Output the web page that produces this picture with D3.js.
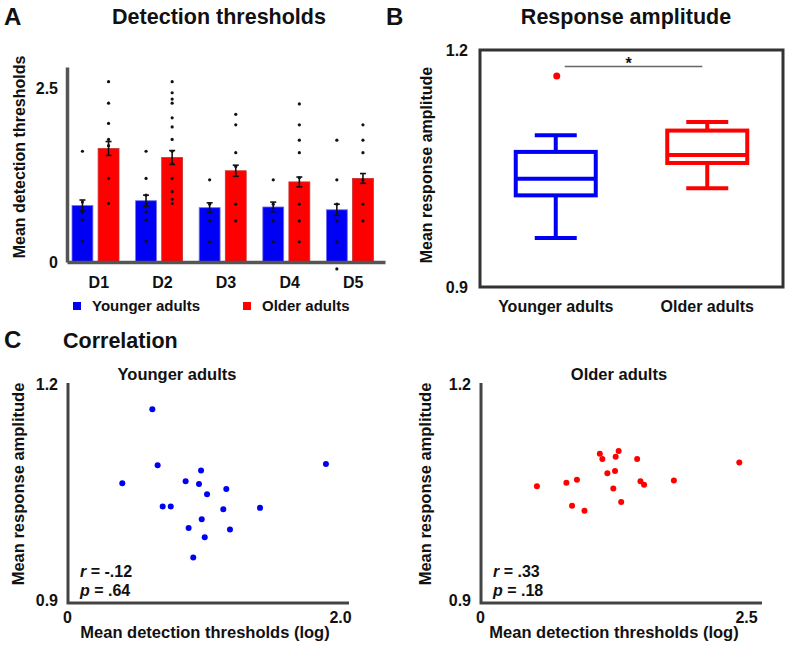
<!DOCTYPE html>
<html>
<head>
<meta charset="utf-8">
<script src="https://cdn.jsdelivr.net/npm/d3@7"></script>
<style>
  body { margin: 0; background: #fff; }
  svg { font-family: "Liberation Sans", Arial, sans-serif; font-weight: bold; }
</style>
</head>
<body>
<div class="fig"></div>
<script>
// ---- data ----
const conditions = ['D1', 'D2', 'D3', 'D4', 'D5'];
const groups = ['Younger adults', 'Older adults'];
const youngMean = [0.81, 0.88, 0.78, 0.79, 0.75];
const oldMean   = [1.63, 1.50, 1.31, 1.15, 1.20];
const youngSem  = [0.08, 0.08, 0.07, 0.07, 0.08];
const oldSem    = [0.10, 0.10, 0.08, 0.07, 0.07];
const youngDots = [
    [1.59, 0.86, 0.71, 0.60, 0.30],
    [1.59, 1.20, 0.96, 0.84, 0.72, 0.60, 0.30],
    [1.18, 0.83, 0.59, 0.29],
    [1.18, 0.83, 0.59, 0.29],
    [1.75, 1.18, 0.83, 0.59, 0.29, -0.10],
];
const oldDots = [
    [2.59, 2.28, 1.99, 1.76, 1.67, 1.20, 0.84],
    [2.59, 2.43, 2.34, 2.28, 2.07, 1.94, 1.76, 1.59, 1.42, 1.20, 1.01, 0.90, 0.84],
    [2.12, 1.97, 1.57, 1.37, 0.83, 0.59],
    [2.27, 1.97, 1.75, 1.57, 1.21, 0.83, 0.59, 0.29],
    [1.97, 1.75, 1.57, 1.18, 0.83, 0.59],
];

// box plot: [min, q1, median, q3, max]
const boxStats = [
    [0.962, 1.016, 1.037, 1.071, 1.092],
    [1.025, 1.057, 1.067, 1.098, 1.109],
];
const outliers = [[1.167], []];

const youngX = [0.625, 0.664, 0.405, 0.982, 0.869, 0.967, 1.026, 1.167, 0.701, 0.760, 1.145, 1.414, 0.987, 0.891, 1.194, 1.009, 0.925, 1.897];
const youngY = [1.165, 1.087, 1.062, 1.080, 1.065, 1.061, 1.047, 1.054, 1.030, 1.030, 1.026, 1.028, 1.012, 1.000, 0.998, 0.987, 0.959, 1.089];
const oldX = [0.535, 0.812, 0.911, 0.865, 0.982, 1.126, 1.150, 1.275, 1.303, 1.197, 1.269, 1.253, 1.327, 1.477, 1.508, 1.542, 1.822, 2.437];
const oldY = [1.058, 1.063, 1.067, 1.031, 1.024, 1.103, 1.096, 1.099, 1.107, 1.076, 1.079, 1.055, 1.036, 1.096, 1.065, 1.060, 1.066, 1.091];

const blue = '#0000f5';
const red  = '#ff0000';

const svg = d3.select('.fig')
    .append('svg')
    .attr('width', 788)
    .attr('height', 645)
;

const styleAxis = (g, size, domainColor, domainWidth) => {
    g.selectAll('text').attr('font-size', size).attr('font-weight', 'bold').attr('fill', '#111')
        .attr('font-family', '"Liberation Sans", Arial, sans-serif');
    g.select('.domain').attr('stroke', domainColor || 'none').attr('stroke-width', domainWidth || 0);
};

const label = (x, y, txt, size, anchor) => svg.append('text')
    .attr('x', x).attr('y', y)
    .attr('font-size', size)
    .attr('text-anchor', anchor || 'start')
    .attr('fill', '#111')
    .text(txt);

const vLabel = (x, y, txt, size) => svg.append('text')
    .attr('transform', `translate(${x},${y}) rotate(-90)`)
    .attr('font-size', size)
    .attr('text-anchor', 'middle')
    .attr('fill', '#111')
    .text(txt);

// ================= A: detection thresholds =================
label(4, 25, 'A', 24);
label(219, 24, 'Detection thresholds', 21.5, 'middle');
vLabel(25, 157, 'Mean detection thresholds', 16);

const xA = d3.scaleBand().domain(conditions).range([67, 385]);
const xSub = d3.scaleBand().domain(groups).range([5, 52]).paddingInner(0.2);
const yA = d3.scaleLinear().domain([0, 2.8]).range([262, 67]);

const gA = svg.append('g');
const barData = [];
conditions.forEach((c, i) => {
    barData.push({ c, g: groups[0], mean: youngMean[i], sem: youngSem[i], dots: youngDots[i], fill: blue, stroke: '#6f6ff0' });
    barData.push({ c, g: groups[1], mean: oldMean[i], sem: oldSem[i], dots: oldDots[i], fill: red, stroke: '#c83030' });
});

gA.selectAll('rect.bar').data(barData).enter()
    .append('rect')
    .attr('class', 'bar')
    .attr('x', d => xA(d.c) + xSub(d.g))
    .attr('y', d => yA(d.mean))
    .attr('width', xSub.bandwidth())
    .attr('height', d => yA(0) - yA(d.mean))
    .attr('fill', d => d.fill)
    .attr('stroke', d => d.stroke)
    .attr('stroke-width', 0.8)
;

const cx = d => xA(d.c) + xSub(d.g) + xSub.bandwidth() / 2;

// dots
barData.forEach(d => {
    gA.selectAll(null).data(d.dots).enter()
        .append('circle')
        .attr('cx', cx(d))
        .attr('cy', v => yA(v))
        .attr('r', 1.6)
        .attr('fill', '#111');
});

// error bars
const eb = gA.selectAll('g.eb').data(barData).enter().append('g').attr('class', 'eb')
    .attr('stroke', '#111').attr('stroke-width', 1.6);
eb.append('line')
    .attr('x1', cx).attr('x2', cx)
    .attr('y1', d => yA(d.mean - d.sem)).attr('y2', d => yA(d.mean + d.sem));
eb.append('line')
    .attr('x1', d => cx(d) - 3).attr('x2', d => cx(d) + 3)
    .attr('y1', d => yA(d.mean + d.sem)).attr('y2', d => yA(d.mean + d.sem));
eb.append('line')
    .attr('x1', d => cx(d) - 3).attr('x2', d => cx(d) + 3)
    .attr('y1', d => yA(d.mean - d.sem)).attr('y2', d => yA(d.mean - d.sem));

svg.append('g')
    .attr('transform', 'translate(67,0)')
    .call(d3.axisLeft(yA).tickValues([0, 2.5]).tickFormat(d => d === 0 ? '0' : d3.format('.1f')(d)).tickSize(0).tickSizeOuter(0).tickPadding(9))
    .call(g => styleAxis(g, 16, '#555', 3.5));
svg.append('g')
    .attr('transform', `translate(0,${yA(0)})`)
    .call(d3.axisBottom(xA).tickSize(0).tickSizeOuter(0).tickPadding(15))
    .call(g => styleAxis(g, 16, '#555', 3.5));

// legend
const legend = svg.append('g');
[[73, groups[0], blue], [243, groups[1], red]].forEach(([x, t, col]) => {
    legend.append('rect').attr('x', x).attr('y', 302).attr('width', 8).attr('height', 8).attr('fill', col);
    legend.append('text').attr('x', x + 19).attr('y', 311).attr('font-size', 15).attr('fill', '#111').text(t);
});

// ================= B: response amplitude =================
label(386, 25, 'B', 24);
label(626, 24, 'Response amplitude', 21.5, 'middle');
vLabel(432, 165, 'Mean response amplitude', 16);

const xB = d3.scaleBand().domain(groups).range([480, 783]);
const yB = d3.scaleLinear().domain([0.9, 1.2]).range([287, 50]);

svg.append('rect')
    .attr('x', 480).attr('y', 50)
    .attr('width', 783 - 480).attr('height', 287 - 50)
    .attr('fill', 'none').attr('stroke', '#333').attr('stroke-width', 3);

svg.append('g')
    .attr('transform', 'translate(480,0)')
    .call(d3.axisLeft(yB).tickValues([0.9, 1.2]).tickFormat(d3.format('.1f')).tickSize(0).tickPadding(12))
    .call(g => styleAxis(g, 16));
svg.append('g')
    .attr('transform', 'translate(0,287)')
    .call(d3.axisBottom(xB).tickSize(0).tickPadding(14))
    .call(g => styleAxis(g, 16));

const boxW = 80, capW = 42;
const boxes = svg.append('g').selectAll('g').data(groups).enter().append('g')
    .attr('stroke', (d, i) => i === 0 ? blue : red)
    .attr('stroke-width', 4)
    .attr('fill', 'none');
const bc = d => xB(d) + xB.bandwidth() / 2;
const st = (d, i) => boxStats[i];
boxes.append('line')
    .attr('x1', bc).attr('x2', bc)
    .attr('y1', (d, i) => yB(st(d, i)[0])).attr('y2', (d, i) => yB(st(d, i)[1]));
boxes.append('line')
    .attr('x1', bc).attr('x2', bc)
    .attr('y1', (d, i) => yB(st(d, i)[3])).attr('y2', (d, i) => yB(st(d, i)[4]));
[0, 4].forEach(k => boxes.append('line')
    .attr('x1', d => bc(d) - capW / 2).attr('x2', d => bc(d) + capW / 2)
    .attr('y1', (d, i) => yB(st(d, i)[k])).attr('y2', (d, i) => yB(st(d, i)[k])));
boxes.append('rect')
    .attr('x', d => bc(d) - boxW / 2)
    .attr('y', (d, i) => yB(st(d, i)[3]))
    .attr('width', boxW)
    .attr('height', (d, i) => yB(st(d, i)[1]) - yB(st(d, i)[3]))
    .attr('fill', '#fff');
boxes.append('line')
    .attr('x1', d => bc(d) - boxW / 2).attr('x2', d => bc(d) + boxW / 2)
    .attr('y1', (d, i) => yB(st(d, i)[2])).attr('y2', (d, i) => yB(st(d, i)[2]));

groups.forEach((g, i) => {
    svg.selectAll(null).data(outliers[i]).enter()
        .append('circle')
        .attr('cx', bc(g) + 1)
        .attr('cy', v => yB(v))
        .attr('r', 3.5)
        .attr('fill', red);
});

// significance bar
const sigY = yB(1.179);
svg.append('line')
    .attr('x1', bc(groups[0]) + 9).attr('x2', bc(groups[1]) - 5)
    .attr('y1', sigY).attr('y2', sigY)
    .attr('stroke', '#666').attr('stroke-width', 1.5);
label((bc(groups[0]) + bc(groups[1])) / 2 - 3, sigY + 2, '*', 16, 'middle');

// ================= C: correlation =================
label(4, 348, 'C', 24);
label(63, 348, 'Correlation', 21.5);

const yC = d3.scaleLinear().domain([0.9, 1.2]).range([600, 384]);

const scatter = (opts) => {
    const { left, right, xMax, xs, ys, color, title, titleX, r, p, ylx, xlabX } = opts;
    const x = d3.scaleLinear().domain([0, xMax]).range([left - 1, right]);
    label(titleX, 380, title, 16.5, 'middle');
    vLabel(ylx, 484, 'Mean response amplitude', 16.5);

    svg.append('path')
        .attr('d', `M${left},383V603H${left + 281}`)
        .attr('fill', 'none').attr('stroke', '#444').attr('stroke-width', 3);

    svg.append('g')
        .attr('transform', `translate(${left},0)`)
        .call(d3.axisLeft(yC).tickValues([0.9, 1.2]).tickFormat(d3.format('.1f')).tickSize(0).tickPadding(10))
        .call(g => styleAxis(g, 16));
    svg.append('g')
        .attr('transform', 'translate(0,603)')
        .call(d3.axisBottom(x).tickValues([0, xMax]).tickFormat(d => d === 0 ? '0' : d3.format('.1f')(d)).tickSize(0).tickSizeOuter(0).tickPadding(9))
        .call(g => styleAxis(g, 16));

    svg.append('g').selectAll('circle').data(xs.map((v, i) => [v, ys[i]])).enter()
        .append('circle')
        .attr('cx', d => x(d[0]))
        .attr('cy', d => yC(d[1]))
        .attr('r', 3)
        .attr('fill', color);

    const t1 = svg.append('text').attr('x', left + 12).attr('y', 577).attr('font-size', 16).attr('fill', '#111');
    t1.append('tspan').attr('font-style', 'italic').text('r');
    t1.append('tspan').text(` = ${r}`);
    const t2 = svg.append('text').attr('x', left + 12).attr('y', 596).attr('font-size', 16).attr('fill', '#111');
    t2.append('tspan').attr('font-style', 'italic').text('p');
    t2.append('tspan').text(` = ${p}`);

    label(xlabX, 638, 'Mean detection thresholds (log)', 16.5, 'middle');
};

scatter({
    left: 68, right: 340, xMax: 2.0, xs: youngX, ys: youngY, color: blue,
    title: 'Younger adults', titleX: 177, r: '-.12', p: '.64', ylx: 24, xlabX: 205,
});
scatter({
    left: 481, right: 746, xMax: 2.5, xs: oldX, ys: oldY, color: red,
    title: 'Older adults', titleX: 619, r: '.33', p: '.18', ylx: 431, xlabX: 614,
});
</script>
</body>
</html>
